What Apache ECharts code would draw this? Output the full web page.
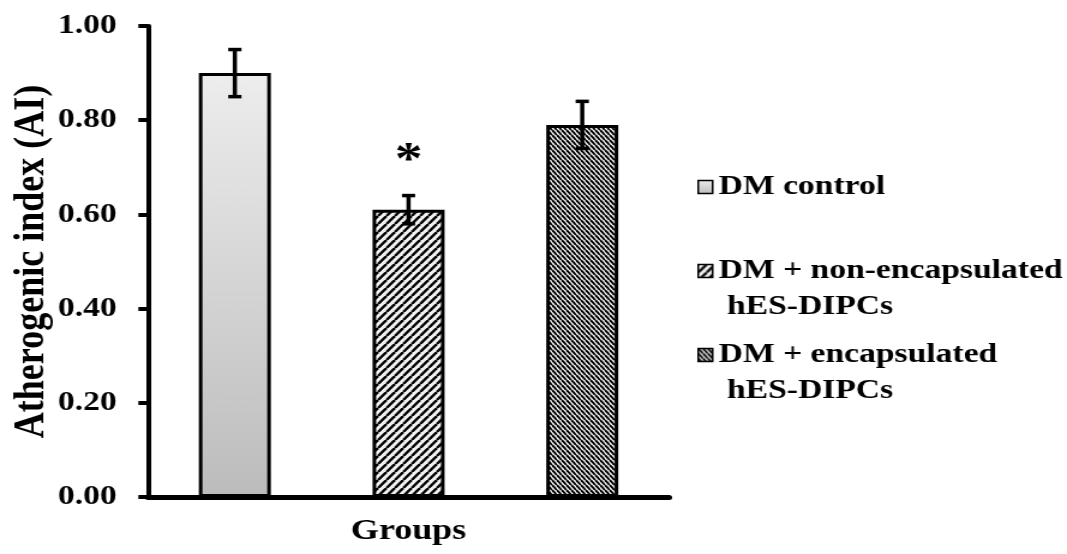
<!DOCTYPE html>
<html>
<head>
<meta charset="utf-8">
<script src="https://cdn.jsdelivr.net/npm/echarts@6/dist/echarts.min.js"></script>
<style>
  html, body { margin: 0; padding: 0; background: #fff; overflow: hidden; }
  /* the figure is laid out on a narrower canvas and widened horizontally */
  #chart { width: 889px; height: 554px; transform: scaleX(1.2002); transform-origin: 0 0; }
</style>
</head>
<body>
<div id="chart"></div>
<script>
// Treatment groups, mean atherogenic index and its error
const groupNames = ['DM control', 'DM + non-encapsulated\n hES-DIPCs', 'DM + encapsulated\n hES-DIPCs'];
const meanAI = [0.90, 0.61, 0.79];
const errAI = [0.05, 0.03, 0.05];
const sigMarks = ['', '*', ''];
const yTickValues = [0, 0.2, 0.4, 0.6, 0.8, 1.0];
const yTickLabels = ['0.00', '0.20', '0.40', '0.60', '0.80', '1.00'];
const xAxisTitle = 'Groups';
const yAxisTitle = 'Atherogenic index (AI)';

const FONT = "'Liberation Serif', 'DejaVu Serif', serif";

// diagonal hatch tile for pattern fills
function hatch(w, h, lw, dir, bg) {
  const c = document.createElement('canvas');
  c.width = w; c.height = h;
  const g = c.getContext('2d');
  g.fillStyle = bg; g.fillRect(0, 0, w, h);
  g.strokeStyle = '#000'; g.lineWidth = lw;
  for (const dx of [-w, 0, w]) {
    g.beginPath();
    if (dir === '/') { g.moveTo(dx, h); g.lineTo(dx + w, 0); }
    else { g.moveTo(dx, 0); g.lineTo(dx + w, h); }
    g.stroke();
  }
  return c;
}

const fills = [
  new echarts.graphic.LinearGradient(0, 0, 0, 1, [
    { offset: 0, color: '#ededed' },
    { offset: 1, color: '#bcbcbc' }
  ]),
  { image: hatch(7, 8, 2.4, '/', '#f2f2f2'), repeat: 'repeat' },
  { image: hatch(4, 5, 2.0, '\\', '#ffffff'), repeat: 'repeat' }
];

const barSeries = groupNames.map((name, i) => ({
  type: 'bar',
  name: name,
  stack: 'groups',
  barWidth: 60,
  data: meanAI.map((v, j) => (j === i ? v : '-')),
  itemStyle: { color: fills[i], borderColor: '#000', borderWidth: 3 },
  emphasis: { disabled: true },
  z: 2
}));

const errorSeries = {
  type: 'custom',
  name: 'error',
  z: 5,
  silent: true,
  data: meanAI.map((m, i) => [i, m, errAI[i]]),
  renderItem: function (params, api) {
    const x = api.value(0), m = api.value(1), e = api.value(2);
    const top = api.coord([x, m + e]);
    const bot = api.coord([x, m - e]);
    const cap = 5.5;
    const st = { stroke: '#000', lineWidth: 3.5 };
    const children = [
      { type: 'line', shape: { x1: top[0], y1: top[1], x2: bot[0], y2: bot[1] }, style: st },
      { type: 'line', shape: { x1: top[0] - cap, y1: top[1], x2: top[0] + cap, y2: top[1] }, style: st },
      { type: 'line', shape: { x1: bot[0] - cap, y1: bot[1], x2: bot[0] + cap, y2: bot[1] }, style: st }
    ];
    const mark = sigMarks[params.dataIndex];
    if (mark) {
      children.push({
        type: 'text',
        style: {
          text: mark, x: top[0], y: top[1] - 33,
          align: 'center', verticalAlign: 'middle',
          font: 'bold 46px ' + FONT, fill: '#000'
        }
      });
    }
    return { type: 'group', children: children };
  }
};

// two-line entries get a blank leading line so the swatch sits beside the first line
const legendTops = [169, 217, 301];
const legends = groupNames.map((name, i) => ({
  data: [name],
  left: 581,
  top: legendTops[i],
  orient: 'vertical',
  padding: 0,
  itemWidth: 12,
  itemHeight: 13,
  selectedMode: false,
  icon: 'rect',
  itemStyle: { borderColor: '#000', borderWidth: 1.5 },
  formatter: n => (n.indexOf('\n') >= 0 ? '\n' + n : n),
  textStyle: {
    fontFamily: FONT, fontWeight: 'bold', fontSize: 28, color: '#000', lineHeight: 36
  }
}));

const chart = echarts.init(document.getElementById('chart'), null, { renderer: 'canvas' });
chart.setOption({
  animation: false,
  backgroundColor: '#fff',
  legend: legends,
  grid: { left: 123.3, right: 331.5, top: 26, bottom: 57, containLabel: false },
  xAxis: {
    type: 'category',
    data: groupNames,
    name: xAxisTitle,
    nameLocation: 'middle',
    nameGap: 19,
    nameTextStyle: { fontFamily: FONT, fontWeight: 'bold', fontSize: 30, color: '#000' },
    axisLine: { lineStyle: { color: '#000', width: 5 } },
    axisTick: { show: false },
    axisLabel: { show: false },
    splitLine: { show: false }
  },
  yAxis: {
    type: 'value',
    min: yTickValues[0],
    max: yTickValues[yTickValues.length - 1],
    interval: yTickValues[1] - yTickValues[0],
    name: yAxisTitle,
    nameLocation: 'middle',
    nameGap: 79,
    nameTextStyle: { fontFamily: FONT, fontWeight: 'bold', fontSize: 36, color: '#000' },
    axisLine: { show: true, lineStyle: { color: '#000', width: 4 } },
    axisTick: { show: true, inside: false, length: 8, lineStyle: { color: '#000', width: 4 } },
    axisLabel: {
      margin: 26,
      fontFamily: FONT, fontWeight: 'bold', fontSize: 28, color: '#000',
      formatter: function (v) {
        const k = yTickValues.findIndex(t => Math.abs(t - v) < 1e-9);
        return k >= 0 ? yTickLabels[k] : '';
      }
    },
    splitLine: { show: false }
  },
  series: barSeries.concat([errorSeries])
});
</script>
</body>
</html>
